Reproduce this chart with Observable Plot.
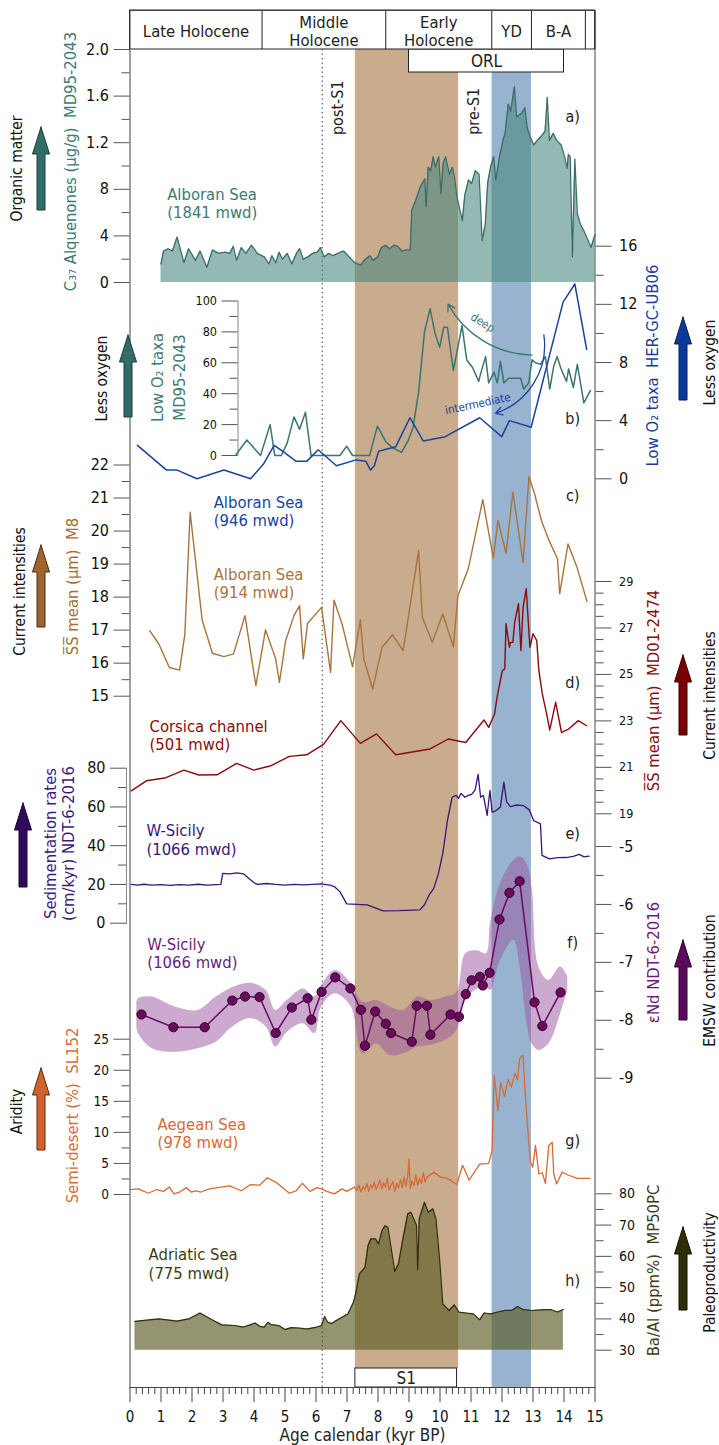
<!DOCTYPE html>
<html><head><meta charset="utf-8">
<script src="https://cdn.jsdelivr.net/npm/d3@7"></script>
<script src="https://cdn.jsdelivr.net/npm/@observablehq/plot@0.6"></script>
<style>
body{margin:0;background:#fff;}
#chart{position:relative;width:719px;height:1445px;overflow:hidden;background:#fff;}
</style></head><body><div id="chart"></div>
<script>
// ---------------- DATA (age in kyr BP, value) ----------------
const headerPeriods = ["Late Holocene", "Middle\nHolocene", "Early\nHolocene", "YD", "B-A"];
const headerBounds = [0, 4.26, 8.25, 11.67, 12.95, 14.69];
const s1Interval = [7.27, 10.6];
const ydInterval = [11.68, 12.95];
const orlInterval = [9.0, 14.0];
const postS1Age = 6.2;

// a) C37 alkenones MD95-2043 (µg/g)
const alkenones = [[1.0,0.16],[1.08,0.27],[1.23,0.29],[1.37,0.27],[1.52,0.39],[1.74,0.17],[1.89,0.29],[2.11,0.19],[2.26,0.27],[2.48,0.13],[2.66,0.28],[2.85,0.25],[3.07,0.26],[3.22,0.25],[3.33,0.31],[3.44,0.19],[3.59,0.30],[3.74,0.25],[3.92,0.32],[4.11,0.25],[4.33,0.22],[4.48,0.16],[4.58,0.23],[4.70,0.17],[4.81,0.26],[4.92,0.20],[5.07,0.25],[5.22,0.16],[5.37,0.25],[5.47,0.29],[5.59,0.20],[5.74,0.22],[5.89,0.25],[6.04,0.26],[6.14,0.30],[6.26,0.22],[6.41,0.25],[6.55,0.23],[6.78,0.26],[6.89,0.27],[7.07,0.22],[7.25,0.17],[7.44,0.15],[7.59,0.20],[7.74,0.23],[7.84,0.19],[7.99,0.22],[8.11,0.30],[8.25,0.32],[8.37,0.29],[8.52,0.32],[8.64,0.31],[8.77,0.27],[8.92,0.28],[9.04,0.28],[9.09,0.62],[9.21,0.70],[9.36,0.82],[9.51,0.89],[9.55,0.65],[9.62,0.99],[9.70,0.96],[9.78,1.08],[9.85,0.99],[9.96,1.08],[10.03,0.76],[10.10,1.02],[10.18,1.08],[10.30,0.93],[10.40,0.99],[10.47,0.90],[10.55,0.73],[10.62,0.65],[10.72,0.53],[10.80,0.75],[10.92,0.88],[11.02,0.85],[11.14,0.96],[11.26,0.93],[11.36,0.36],[11.46,0.50],[11.54,0.86],[11.63,0.99],[11.73,1.08],[11.80,0.88],[11.92,1.08],[12.03,1.22],[12.10,1.28],[12.20,1.53],[12.28,1.47],[12.40,1.68],[12.47,1.42],[12.62,1.45],[12.74,1.50],[12.81,1.33],[12.91,1.25],[13.02,1.18],[13.14,1.22],[13.28,1.26],[13.39,1.30],[13.46,1.59],[13.53,1.22],[13.65,1.28],[13.76,1.22],[13.91,1.18],[14.02,1.08],[14.10,0.98],[14.14,1.10],[14.20,1.08],[14.27,0.22],[14.35,1.06],[14.43,0.59],[14.53,0.50],[14.63,0.45],[14.78,0.36],[14.87,0.30],[15.0,0.41]];
const alkTicks = [0, 0.4, 0.8, 1.2, 1.6, 2.0];
const alkTickLabels = ["0", "4", "8", "1.2", "1.6", "2.0"];

// b) Low O2 taxa MD95-2043 (%)
const lowO2Deep = [[3.40,0],[3.77,10],[4.21,0],[4.52,20],[4.67,0],[4.88,0],[5.07,8],[5.29,25],[5.47,17],[5.66,28],[5.84,0],[6.18,0],[6.77,0],[6.99,6],[7.18,0],[7.73,0],[7.98,19],[8.25,9],[8.47,5],[8.76,2],[8.98,10],[9.13,18],[9.31,41],[9.50,80],[9.68,95],[9.84,79],[9.99,70],[10.12,83],[10.24,83],[10.43,55],[10.71,84],[10.86,62],[11.05,57],[11.25,48],[11.31,53],[11.47,64],[11.57,47],[11.74,54],[11.85,47],[11.95,61],[12.06,47],[12.22,50],[12.38,50],[12.60,50],[12.70,43],[12.86,47],[12.97,62],[13.08,60],[13.24,59],[13.40,64],[13.54,43],[13.67,58],[13.78,64],[13.89,57],[13.99,52],[14.08,48],[14.15,56],[14.30,44],[14.43,59],[14.64,34],[14.85,42]];
// b) Low O2 taxa HER-GC-UB06
const lowO2Inter = [[0.24,2.3],[1.18,0.6],[1.52,0.6],[2.16,0],[3.03,0.6],[3.89,0],[4.30,1.0],[4.65,2.3],[4.92,1.9],[5.36,1.2],[5.70,1.2],[6.07,2.0],[6.66,0.9],[7.29,1.3],[7.61,1.2],[7.76,0.6],[7.88,0.9],[8.02,1.9],[8.57,2.2],[9.03,4.2],[9.46,2.6],[10.17,2.9],[11.28,4.2],[11.99,2.9],[12.24,4.0],[12.94,3.55],[13.97,12.15],[14.35,13.4],[14.73,8.9]];

// c) SS mean M8 (µm)
const ssM8 = [[0.64,16.98],[0.93,16.58],[1.27,15.87],[1.60,15.79],[1.77,16.88],[1.94,20.57],[2.33,17.29],[2.66,16.30],[3.03,16.20],[3.34,16.28],[3.71,17.44],[4.06,15.32],[4.37,17.01],[4.70,16.13],[4.82,15.42],[5.02,16.68],[5.29,17.44],[5.47,17.74],[5.59,16.13],[5.73,17.21],[6.18,17.69],[6.47,15.72],[6.58,17.91],[6.84,17.19],[7.18,15.89],[7.43,17.32],[7.54,16.13],[7.83,15.22],[8.13,16.48],[8.47,16.86],[8.81,16.38],[9.31,19.41],[9.43,17.39],[9.75,16.63],[10.09,17.49],[10.43,16.50],[10.58,18.05],[10.91,18.85],[11.38,20.95],[11.72,19.18],[11.87,20.32],[12.13,19.33],[12.35,21.18],[12.68,19.05],[12.87,21.65],[13.05,21.13],[13.27,20.32],[13.52,19.71],[13.79,19.16],[13.86,18.10],[14.13,19.61],[14.42,18.90],[14.74,17.87]];

// d) SS mean MD01-2474 (µm)
const ssMD01 = [[0.04,19.99],[0.53,20.42],[1.12,20.54],[1.74,20.88],[2.22,20.67],[2.81,20.68],[3.44,21.17],[3.99,20.88],[4.55,21.07],[5.14,21.47],[5.70,21.54],[6.25,22.00],[6.80,23.01],[7.43,22.03],[7.95,22.44],[8.57,21.54],[9.68,21.79],[10.27,22.22],[10.83,22.07],[11.42,23.04],[11.57,22.72],[11.76,23.30],[11.84,24.01],[12.01,25.16],[12.09,25.24],[12.13,27.18],[12.24,26.17],[12.27,26.38],[12.35,26.38],[12.41,27.25],[12.53,28.04],[12.61,26.03],[12.68,27.89],[12.78,28.69],[12.90,26.17],[13.00,26.75],[13.12,26.46],[13.19,25.16],[13.30,24.16],[13.44,23.30],[13.54,22.61],[13.73,23.80],[13.92,22.50],[14.15,22.65],[14.46,23.01],[14.73,22.79]];

// e) Sedimentation rates NDT-6-2016 (cm/kyr)
const sedRate = [[0.04,20.0],[0.25,19.6],[0.45,20.1],[0.70,19.7],[1.0,19.9],[1.3,19.5],[1.6,19.9],[1.9,19.6],[2.2,20.1],[2.5,19.7],[2.93,20.0],[2.99,25.7],[3.22,25.5],[3.44,26.0],[3.66,25.5],[3.81,23.5],[3.99,21.0],[4.11,20.0],[4.40,20.5],[4.70,20.0],[5.0,19.7],[5.29,20.0],[5.6,19.8],[5.88,20.0],[6.18,20.3],[6.45,19.6],[6.59,18.9],[6.77,16.3],[6.99,10.0],[7.65,9.5],[8.17,6.4],[8.69,6.5],[9.35,6.9],[9.50,9.5],[9.65,14.6],[9.80,18.0],[9.95,25.7],[10.09,36.0],[10.24,53.0],[10.39,65.0],[10.51,66.0],[10.60,64.5],[10.68,67.0],[10.80,65.0],[10.91,66.0],[11.02,66.5],[11.13,68.7],[11.23,76.8],[11.31,65.0],[11.40,66.0],[11.52,55.6],[11.61,68.5],[11.68,57.3],[11.80,58.0],[11.95,60.0],[12.06,72.8],[12.15,62.5],[12.27,60.2],[12.45,61.0],[12.69,60.7],[12.88,58.5],[13.02,53.0],[13.24,51.3],[13.29,35.0],[13.53,33.2],[13.80,33.8],[14.06,33.9],[14.30,34.5],[14.49,35.5],[14.65,34.2],[14.81,34.6]];

// f) eNd NDT-6-2016
const eNd = [[0.37,-7.90],[1.40,-8.12],[2.41,-8.12],[3.30,-7.66],[3.71,-7.59],[4.18,-7.60],[4.70,-8.22],[5.22,-7.78],[5.73,-7.62],[5.85,-7.99],[6.18,-7.51],[6.62,-7.26],[7.11,-7.45],[7.45,-7.82],[7.58,-8.44],[7.91,-7.85],[8.25,-8.06],[8.42,-8.22],[9.09,-8.37],[9.25,-7.75],[9.58,-7.75],[9.69,-8.25],[10.34,-7.90],[10.61,-7.94],[10.83,-7.55],[11.02,-7.31],[11.29,-7.25],[11.38,-7.40],[11.60,-7.18],[11.92,-6.26],[12.24,-5.80],[12.57,-5.60],[13.05,-7.69],[13.30,-8.10],[13.89,-7.52]];
// f) eNd uncertainty envelope [age, upper, lower]
const eNdBand = [[0.22,-7.72,-8.12],[0.27,-7.63,-8.23],[0.71,-7.60,-8.49],[1.45,-7.77,-8.55],[2.19,-7.83,-8.49],[2.78,-7.60,-8.38],[3.30,-7.44,-8.12],[3.89,-7.36,-7.97],[4.40,-7.49,-8.12],[4.70,-7.83,-8.46],[5.07,-7.66,-8.21],[5.59,-7.46,-8.06],[5.96,-7.60,-8.23],[6.18,-7.40,-7.77],[6.62,-7.14,-7.54],[7.14,-7.37,-7.77],[7.51,-7.69,-8.58],[7.95,-7.66,-8.41],[8.39,-7.77,-8.61],[8.84,-7.83,-8.58],[9.28,-7.60,-8.46],[9.72,-7.66,-8.43],[10.17,-7.60,-8.35],[10.54,-7.52,-8.18],[10.83,-6.85,-7.66],[11.20,-6.80,-7.46],[11.50,-6.85,-7.43],[11.63,-6.33,-7.49],[11.95,-5.64,-6.97],[12.38,-5.24,-6.62],[12.60,-5.18,-7.14],[12.81,-5.30,-8.06],[12.97,-5.70,-8.41],[13.19,-7.08,-8.52],[13.51,-7.31,-8.41],[13.89,-7.08,-7.89],[14.12,-7.25,-7.49]];

// g) Semi-desert SL152 (%)
const semiDesert = [[0.0,0.8],[0.27,0.9],[0.59,0.2],[0.86,0.8],[1.08,0.5],[1.27,1.2],[1.42,0.1],[1.60,0.4],[1.82,1.1],[1.97,0.4],[2.11,0.6],[2.29,0.4],[2.56,0.9],[2.93,1.2],[3.22,1.4],[3.59,0.6],[3.89,1.6],[4.18,1.5],[4.43,2.7],[4.70,2.0],[5.14,0.2],[5.36,0.6],[5.56,1.8],[5.81,0.5],[6.03,1.1],[6.18,0.9],[6.35,0.5],[6.59,0.1],[6.84,0.9],[6.99,0.5],[7.21,1.1],[7.25,1.2],[7.32,0.6],[7.38,1.5],[7.45,0.4],[7.52,1.3],[7.58,0.8],[7.64,1.8],[7.70,0.5],[7.76,1.6],[7.82,1.0],[7.88,2.0],[7.94,0.8],[8.00,1.5],[8.06,2.3],[8.12,0.9],[8.18,1.9],[8.24,1.2],[8.30,2.6],[8.36,0.7],[8.42,1.5],[8.48,2.1],[8.54,0.5],[8.60,1.8],[8.66,1.0],[8.72,2.4],[8.78,1.1],[8.84,2.8],[8.90,1.3],[8.96,3.0],[9.00,5.7],[9.04,1.0],[9.10,2.2],[9.16,1.4],[9.22,3.2],[9.28,1.5],[9.34,2.6],[9.40,1.8],[9.46,3.5],[9.52,2.0],[9.58,2.8],[9.80,3.6],[10.02,2.8],[10.24,2.6],[10.54,1.6],[10.73,4.7],[10.94,2.3],[11.28,4.9],[11.57,5.0],[11.68,7.1],[11.75,19.2],[11.87,13.5],[11.96,18.0],[12.08,15.8],[12.20,18.5],[12.30,17.3],[12.42,19.5],[12.50,18.5],[12.57,21.9],[12.68,22.4],[12.74,16.8],[12.86,8.7],[12.92,5.2],[12.99,4.4],[13.08,7.9],[13.19,3.3],[13.30,3.5],[13.40,1.8],[13.51,7.9],[13.62,8.4],[13.67,3.3],[13.76,1.7],[13.94,3.6],[14.15,3.1],[14.43,2.6],[14.83,2.6]];

// h) Ba/Al MP50PC (ppm%)
const baAl = [[0.16,39.2],[0.93,40.0],[1.52,39.3],[1.89,40.0],[2.26,41.9],[2.63,39.8],[2.96,38.1],[3.37,37.9],[3.66,37.4],[3.85,38.0],[4.03,38.7],[4.20,37.6],[4.33,37.4],[4.45,38.9],[4.55,38.2],[4.80,37.9],[5.00,36.6],[5.20,37.2],[5.44,37.1],[5.60,36.9],[5.73,36.8],[6.03,37.4],[6.18,37.9],[6.28,40.8],[6.37,39.0],[6.50,38.5],[6.74,40.0],[7.03,41.6],[7.21,45.3],[7.29,48.5],[7.40,54.4],[7.58,56.5],[7.68,63.5],[7.77,65.6],[7.92,65.6],[8.02,64.0],[8.13,68.2],[8.22,69.8],[8.32,69.3],[8.47,59.7],[8.54,55.2],[8.66,57.6],[8.81,66.0],[8.96,73.6],[9.06,74.1],[9.13,72.5],[9.24,70.0],[9.28,55.7],[9.33,72.0],[9.50,77.3],[9.62,74.1],[9.77,75.2],[9.87,72.0],[9.99,58.7],[10.09,44.8],[10.29,42.7],[10.46,44.5],[10.61,42.2],[10.83,41.9],[11.08,41.6],[11.28,39.7],[11.42,41.9],[11.64,41.6],[11.87,42.2],[12.09,42.7],[12.31,42.7],[12.50,44.0],[12.68,43.0],[12.97,42.7],[13.27,42.9],[13.57,43.0],[13.79,42.2],[13.98,43.0]];

// ---------------- LAYOUT ----------------
const W = 719, H = 1445, XL = 129.5, XR = 594.5;
const FONT = "'DejaVu Sans Condensed','DejaVu Sans',sans-serif";
const chart = document.getElementById("chart");
const X = d => d[0], V = d => d[1];

function layer(o) {
  const svg = Plot.plot({
    width: W, height: H,
    x: {domain: [0, 15], range: [XL, XR], axis: null},
    ...o,
    style: {background: "none", position: "absolute", left: "0px", top: "0px", overflow: "visible",
      maxWidth: "none", fontFamily: FONT, fontStretch: "condensed", fontSize: "15px", color: "#222"}
  });
  chart.appendChild(svg);
  return svg;
}
function yAxes(anchor, major, minor, size, fmt) {
  return [
    Plot.axisY({anchor, ticks: minor, tickSize: 8, tickFormat: () => "", label: null, stroke: "#555"}),
    Plot.axisY({anchor, ticks: major, tickSize: 16, tickPadding: anchor === "left" ? 5 : 8, fontSize: size,
      tickFormat: fmt || (d => String(d)), label: null, stroke: "#555", fill: "#111"})
  ];
}
const lbl = (t, x, y, fill, o = {}) => Plot.text([t], {text: d => d, x, y, fill, fontSize: 16.5, textAnchor: "start", lineAnchor: "middle", lineHeight: 1.12, ...o});

// ---------------- BASE (bands, boxes, time axis) ----------------
const headerMid = headerPeriods.map((p, i) => ({p, x: (headerBounds[i] + headerBounds[i + 1]) / 2}));
layer({
  marginLeft: XL, marginRight: W - XR, marginTop: 10, marginBottom: H - 1387,
  y: {domain: [0, H], range: [0, H], axis: null},
  marks: [
    Plot.rect([s1Interval], {x1: d => d[0], x2: d => d[1], y1: 49, y2: 1368, fill: "#c9ab8e"}),
    Plot.rect([ydInterval], {x1: d => d[0], x2: d => d[1], y1: 72, y2: 1387, fill: "#97b3cf"}),
    Plot.rect([orlInterval], {x1: d => d[0], x2: d => d[1], y1: 49, y2: 72, fill: "white", stroke: "#222"}),
    Plot.text(["ORL"], {text: d => d, x: (orlInterval[0] + orlInterval[1]) / 2, y: 61, fontSize: 17}),
    Plot.rect([[s1Interval[0], 10.55]], {x1: d => d[0], x2: d => d[1], y1: 1368, y2: 1387, fill: "white", stroke: "#222"}),
    Plot.text(["S1"], {text: d => d, x: 8.91, y: 1378, fontSize: 17}),
    Plot.rect([[0, 15]], {x1: d => d[0], x2: d => d[1], y1: 10, y2: 49, fill: "white", stroke: "#222"}),
    Plot.ruleX(headerBounds.slice(1), {y1: 10, y2: 49, stroke: "#222"}),
    Plot.ruleX([15], {y1: 10, y2: 49, stroke: "#222"}),
    Plot.text(headerMid, {x: "x", y: 31, text: "p", fontSize: 16.5, lineHeight: 1.1}),
    Plot.ruleX([postS1Age], {y1: 49, y2: 1387, stroke: "#222", strokeDasharray: "1.3,3.2"}),
    Plot.frame({stroke: "#444"}),
    Plot.axisX({ticks: d3.range(0, 75).map(i => i * 0.2).filter(v => Math.abs(v - Math.round(v)) > 0.01), tickSize: 7, tickFormat: () => "", label: null, stroke: "#444"}),
    Plot.axisX({ticks: d3.range(0, 16), tickSize: 15, tickPadding: 9, fontSize: 15, label: null, stroke: "#444", fill: "#111"}),
    Plot.text(["Age calendar (kyr BP)"], {text: d => d, x: 7.5, y: 1435, fontSize: 17})
  ]
});

// ---------------- a) alkenones ----------------
const alkFmt = new Map(alkTicks.map((t, i) => [t, alkTickLabels[i]]));
layer({
  marginLeft: XL, marginRight: W - XR, marginTop: 49, marginBottom: H - 282,
  y: {domain: [0, 2], label: null},
  marks: [
    Plot.areaY(alkenones, {x: X, y1: 0, y2: V, fill: "#4c8880", fillOpacity: 0.6}),
    Plot.lineY(alkenones, {x: X, y: V, stroke: "#3b6e69", strokeWidth: 1.3}),
    ...yAxes("left", alkTicks, [0.2, 0.6, 1.0, 1.4, 1.8], 16, d => alkFmt.get(Math.round(d * 10) / 10)),
    lbl("Alboran Sea\n(1841 mwd)", 1.2, 0.68, "#3d7a74"),
    Plot.text(["a)"], {text: d => d, x: 14.28, y: 1.42, fontSize: 16}),
    Plot.text(["post-S1"], {text: d => d, x: 6.72, y: 1.5, rotate: -90, fontSize: 16}),
    Plot.text(["pre-S1"], {text: d => d, x: 11.1, y: 1.47, rotate: -90, fontSize: 16})
  ]
});

// ---------------- b) Low O2 taxa MD95-2043 (inner left axis) ----------------
layer({
  marginLeft: 237.5, marginRight: W - XR, marginTop: 300.5, marginBottom: H - 455,
  y: {domain: [0, 100], label: null},
  marks: [
    Plot.frame({anchor: "left", stroke: "#888"}),
    ...yAxes("left", [0, 20, 40, 60, 80, 100], [10, 30, 50, 70, 90], 12.5),
    Plot.lineY(lowO2Deep, {x: X, y: V, stroke: "#3b7570", strokeWidth: 1.5}),
    Plot.arrow([0], {x1: 12.97, y1: 65, x2: 10.26, y2: 98, bend: 30, stroke: "#3b7570", strokeWidth: 1.3, headLength: 9}),
    Plot.text(["deep"], {text: d => d, x: 11.38, y: 86, rotate: 32, fill: "#3b7570", fontSize: 11.5})
  ]
});

// ---------------- b) Low O2 taxa HER-GC-UB06 (right axis) ----------------
layer({
  marginLeft: XL, marginRight: W - XR, marginTop: 245.7, marginBottom: H - 478.3,
  y: {domain: [0, 16], label: null},
  marks: [
    ...yAxes("right", [0, 4, 8, 12, 16], [2, 6, 10, 14], 16),
    Plot.lineY(lowO2Inter, {x: X, y: V, stroke: "#1a42a0", strokeWidth: 1.5}),
    Plot.arrow([0], {x1: 13.35, y1: 9.9, x2: 11.79, y2: 4.5, bend: 40, stroke: "#1a42a0", strokeWidth: 1.3, headLength: 9}),
    Plot.text(["intermediate"], {text: d => d, x: 11.22, y: 5.15, rotate: -12, fill: "#1a42a0", fontSize: 11.5}),
    Plot.text(["b)"], {text: d => d, x: 14.28, y: 4.15, fontSize: 16})
  ]
});

// ---------------- c) SS M8 ----------------
layer({
  marginLeft: XL, marginRight: W - XR, marginTop: 464.5, marginBottom: H - 695.7,
  y: {domain: [15, 22], label: null},
  marks: [
    ...yAxes("left", d3.range(15, 23), d3.range(15.5, 22, 1), 16),
    Plot.lineY(ssM8, {x: X, y: V, stroke: "#a8743c", strokeWidth: 1.4}),
    lbl("Alboran Sea\n(946 mwd)", 2.7, 20.6, "#1a42a0"),
    lbl("Alboran Sea\n(914 mwd)", 2.7, 18.42, "#a8743c"),
    Plot.text(["c)"], {text: d => d, x: 14.28, y: 21.08, fontSize: 16})
  ]
});

// ---------------- d) SS MD01-2474 ----------------
layer({
  marginLeft: XL, marginRight: W - XR, marginTop: 581, marginBottom: H - 813.3,
  y: {domain: [19, 29], label: null},
  marks: [
    ...yAxes("right", [19, 21, 23, 25, 27, 29], d3.range(19.5, 29, 0.5).filter(v => !(Number.isInteger(v) && v % 2 === 1)), 12.5),
    Plot.lineY(ssMD01, {x: X, y: V, stroke: "#8b0a0a", strokeWidth: 1.4}),
    lbl("Corsica channel\n(501 mwd)", 0.63, 22.4, "#8b0a0a"),
    Plot.text(["d)"], {text: d => d, x: 14.28, y: 24.65, fontSize: 16})
  ]
});

// ---------------- e) Sedimentation rates ----------------
layer({
  marginLeft: 126, marginRight: W - XR, marginTop: 767.7, marginBottom: H - 922.7,
  y: {domain: [0, 80], label: null},
  marks: [
    Plot.frame({anchor: "left", stroke: "#888"}),
    ...yAxes("left", [0, 20, 40, 60, 80], [10, 30, 50, 70], 16),
    Plot.lineY(sedRate, {x: X, y: V, stroke: "#3a1478", strokeWidth: 1.3}),
    lbl("W-Sicily\n(1066 mwd)", 0.53, 43.2, "#3a1478"),
    Plot.text(["e)"], {text: d => d, x: 14.28, y: 46.3, fontSize: 16})
  ]
});

// ---------------- f) eNd ----------------
layer({
  marginLeft: XL, marginRight: W - XR, marginTop: 846, marginBottom: H - 1077.7,
  y: {domain: [-9, -5], label: null},
  marks: [
    ...yAxes("right", [-9, -8, -7, -6, -5], [-8.5, -7.5, -6.5, -5.5], 16),
    Plot.areaY(eNdBand, {x: d => d[0], y1: d => d[2], y2: d => d[1], curve: "catmull-rom", fill: "#9a55a0", fillOpacity: 0.5}),
    Plot.lineY(eNd, {x: X, y: V, stroke: "#6a0a66", strokeWidth: 1.5}),
    Plot.dot(eNd, {x: X, y: V, r: 4.6, fill: "#6a0a5c", stroke: "#2d0028", strokeWidth: 1}),
    lbl("W-Sicily\n(1066 mwd)", 0.56, -6.84, "#6b1a7a"),
    Plot.text(["f)"], {text: d => d, x: 14.28, y: -6.66, fontSize: 16})
  ]
});

// ---------------- g) Semi-desert ----------------
layer({
  marginLeft: XL, marginRight: W - XR, marginTop: 1038.7, marginBottom: H - 1194,
  y: {domain: [0, 25], label: null},
  marks: [
    ...yAxes("left", [0, 5, 10, 15, 20, 25], [2.5, 7.5, 12.5, 17.5, 22.5], 13.5),
    Plot.lineY(semiDesert, {x: X, y: V, stroke: "#d86a35", strokeWidth: 1.3}),
    lbl("Aegean Sea\n(978 mwd)", 0.89, 9.9, "#d86a35"),
    Plot.text(["g)"], {text: d => d, x: 14.28, y: 8.7, fontSize: 16})
  ]
});

// ---------------- h) Ba/Al ----------------
layer({
  marginLeft: XL, marginRight: W - XR, marginTop: 1193.3, marginBottom: H - 1349.7,
  y: {domain: [30, 80], label: null},
  marks: [
    ...yAxes("right", [30, 40, 50, 60, 70, 80], [35, 45, 55, 65, 75], 14),
    Plot.areaY(baAl, {x: X, y1: 30, y2: V, fill: "#5c5a24", fillOpacity: 0.65}),
    Plot.lineY(baAl, {x: X, y: V, stroke: "#2e2e0c", strokeWidth: 1.2}),
    lbl("Adriatic Sea\n(775 mwd)", 0.6, 57.7, "#3c3c0e"),
    Plot.text(["h)"], {text: d => d, x: 14.28, y: 52.3, fontSize: 16})
  ]
});

// ---------------- side titles and indicator arrows ----------------
function blockArrow(cx, top, bottom, fill, stroke) {
  const hw = 8.5, sw = 4, hh = 27;
  const pts = [{y: top, a: cx, b: cx}, {y: top + hh, a: cx - hw, b: cx + hw}, {y: top + hh, a: cx - sw, b: cx + sw}, {y: bottom, a: cx - sw, b: cx + sw}];
  return Plot.areaX(pts, {y: "y", x1: "a", x2: "b", fill, stroke, strokeWidth: 1});
}
const side = (t, x, y, fill, size = 15.5) => Plot.text([t], {text: d => d, x, y, fill, rotate: -90, fontSize: size, lineAnchor: "middle"});
layer({
  marginLeft: 0, marginRight: 0, marginTop: 0, marginBottom: 0,
  x: {domain: [0, W], range: [0, W], axis: null},
  y: {domain: [0, H], range: [0, H], axis: null},
  marks: [
    blockArrow(41, 127, 210, "#336b66", "#1d3d3a"),
    blockArrow(128, 335, 417, "#336b66", "#1d3d3a"),
    blockArrow(41, 545, 627, "#a0652e", "#4a2e12"),
    blockArrow(23, 803, 887, "#2d0b5a", "#1a0536"),
    blockArrow(41, 1068, 1150, "#d0622e", "#5a2a10"),
    blockArrow(683, 317, 400, "#0a3a9a", "#061f55"),
    blockArrow(683, 655, 735, "#7a0000", "#3a0000"),
    blockArrow(683, 940, 1020, "#5a0a5a", "#2d052d"),
    blockArrow(683, 1227, 1310, "#2e2e08", "#111100"),
    side("Organic matter", 17, 168, "#111"),
    side("C\u2083\u2087 Alquenones (\u00b5g/g)  MD95-2043", 70, 161, "#3d7a74", 16.5),
    side("Less oxygen", 102, 378, "#111"),
    side("Low O\u2082 taxa", 157, 377, "#3d7a74", 16.5),
    side("MD95-2043", 179, 377, "#3d7a74", 16.5),
    side("Current intensities", 20, 591, "#111"),
    side("S\u0305S\u0305 mean (\u00b5m)  M8", 72, 586, "#a36f3b", 16.5),
    side("Sedimentation rates", 50, 843, "#3b1a7a", 16.5),
    side("(cm/kyr) NDT-6-2016", 68, 843, "#3b1a7a", 16.5),
    side("Aridity", 17, 1111, "#111"),
    side("Semi-desert (%)  SL152", 72, 1115, "#d2703c", 16.5),
    side("Low O\u2082 taxa  HER-GC-UB06", 652, 365, "#1a3d9a", 16.5),
    side("Less oxygen", 710, 362, "#111"),
    side("S\u0305S\u0305 mean (\u00b5m)  MD01-2474", 653, 690, "#8b0a0a", 16.5),
    side("Current intensities", 710, 695, "#111"),
    side("\u03b5Nd NDT-6-2016", 653, 962, "#6b1a7a", 16.5),
    side("EMSW contribution", 710, 980, "#111"),
    side("Ba/Al (ppm%)  MP50PC", 653, 1270, "#3c3c0e", 16.5),
    side("Paleoproductivity", 710, 1272, "#111")
  ]
});
</script></body></html>
